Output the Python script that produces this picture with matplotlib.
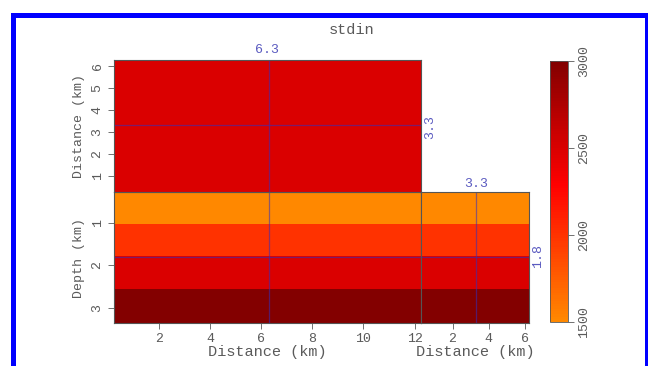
import numpy as np
import matplotlib
matplotlib.use('Agg')
import matplotlib.pyplot as plt
from matplotlib.colors import ListedColormap, Normalize
from matplotlib.patches import Rectangle

# layered velocity model (m/s), layer tops in km
layer_tops = [0.28, 1.04, 1.78, 2.56]
layer_vel = [1500, 2000, 2500, 3000]
depth_max = 3.36

# axis extents (km)
x_range = [0.25, 12.25]
y_range = [0.25, 6.25]

# slice positions
x_slice = 6.3
y_slice = 3.3
z_slice = 1.8

x_ticks = [2, 4, 6, 8, 10, 12]
y_ticks = [1, 2, 3, 4, 5, 6]
y_side_ticks = [2, 4, 6]
z_ticks = [1, 2, 3]
cbar_ticks = [1500, 2000, 2500, 3000]

W, H = 648, 366
fig = plt.figure(figsize=(W / 100, H / 100), dpi=100)
fig.patch.set_facecolor('white')

font = 'Liberation Mono'
txt = '#5a5a5a'
mark = '#5a5ac0'
tsize = 9.5
xl_size = 11
yl_size = 9.5

cmap = ListedColormap(plt.cm.hot(np.linspace(0.57, 0.18, 256)))
norm = Normalize(1500, 3000)


def box(x0, y0, x1, y1):
    # pixel box (top-left origin) -> figure axes
    return fig.add_axes([x0 / W, 1 - y1 / H, (x1 - x0) / W, (y1 - y0) / H])


def style(ax):
    for s in ax.spines.values():
        s.set_color('#555555')
        s.set_linewidth(0.8)
    ax.tick_params(direction='out', length=4, width=0.6, colors=txt,
                   labelsize=tsize)
    for lab in ax.get_xticklabels() + ax.get_yticklabels():
        lab.set_family(font)


z_edges = np.array(layer_tops + [depth_max])
vel = np.array(layer_vel)

# front panel: depth vs x at y = y_slice
ax_f = box(114, 192, 421, 323)
ax_f.pcolormesh(x_range, z_edges, vel[:, None], cmap=cmap, norm=norm)
ax_f.set_xlim(x_range)
ax_f.set_ylim(depth_max, layer_tops[0])
ax_f.axvline(x_slice, color='#3030c0', lw=0.9, alpha=0.55)
ax_f.axhline(z_slice, color='#3030c0', lw=0.9, alpha=0.55)
ax_f.set_xticks(x_ticks)
ax_f.set_yticks(z_ticks)
ax_f.set_yticklabels([str(t) for t in z_ticks], rotation=90, va='center')
ax_f.set_xlabel('Distance (km)', family=font, fontsize=xl_size, color=txt,
                labelpad=0)
ax_f.set_ylabel('Depth (km)', family=font, fontsize=yl_size, color=txt,
                labelpad=5)
style(ax_f)

# top panel: y vs x at depth z_slice
ax_t = box(114, 60, 421, 192)
v_top = vel[np.searchsorted(z_edges, z_slice) - 1]
ax_t.pcolormesh(x_range, y_range, np.full((1, 1), v_top), cmap=cmap, norm=norm)
ax_t.set_xlim(x_range)
ax_t.set_ylim(y_range)
ax_t.axvline(x_slice, color='#3030c0', lw=0.9, alpha=0.55)
ax_t.axhline(y_slice, color='#3030c0', lw=0.9, alpha=0.55)
ax_t.set_xticks([])
ax_t.set_yticks(y_ticks)
ax_t.set_yticklabels([str(t) for t in y_ticks], rotation=90, va='center')
ax_t.set_ylabel('Distance (km)', family=font, fontsize=yl_size, color=txt,
                labelpad=5)
style(ax_t)

# side panel: depth vs y at x = x_slice
ax_s = box(421, 192, 529, 323)
ax_s.pcolormesh(y_range, z_edges, vel[:, None], cmap=cmap, norm=norm)
ax_s.set_xlim(y_range)
ax_s.set_ylim(depth_max, layer_tops[0])
ax_s.axvline(y_slice, color='#3030c0', lw=0.9, alpha=0.55)
ax_s.axhline(z_slice, color='#3030c0', lw=0.9, alpha=0.55)
ax_s.set_xticks(y_side_ticks)
ax_s.set_yticks([])
ax_s.set_xlabel('Distance (km)', family=font, fontsize=xl_size, color=txt,
                labelpad=0)
style(ax_s)

# slice labels
fig.text(267 / W, 1 - 50 / H, f'{x_slice:g}', color=mark, family=font,
         fontsize=tsize, ha='center', va='center')
fig.text(430 / W, 1 - 127 / H, f'{y_slice:g}', color=mark, family=font,
         fontsize=tsize, ha='center', va='center', rotation=90)
fig.text(476 / W, 1 - 184 / H, f'{y_slice:g}', color=mark, family=font,
         fontsize=tsize, ha='center', va='center')
fig.text(538 / W, 1 - 256 / H, f'{z_slice:g}', color=mark, family=font,
         fontsize=tsize, ha='center', va='center', rotation=90)

# colorbar
cax = box(550, 61, 568, 322)
cb = fig.colorbar(plt.cm.ScalarMappable(norm=norm, cmap=cmap), cax=cax)
cb.set_ticks(cbar_ticks)
cb.outline.set_edgecolor('#555555')
cb.outline.set_linewidth(0.6)
cax.tick_params(direction='out', length=4, width=0.6, colors=txt,
                labelsize=tsize)
for lab in cax.get_yticklabels():
    lab.set_family(font)
    lab.set_rotation(90)
    lab.set_va('center')

fig.text(352 / W, 1 - 30 / H, 'stdin', family=font, fontsize=11,
         color=txt, ha='center', va='center')

# blue frame round the plot
fig.add_artist(Rectangle((12.5 / W, -0.1), 634 / W, 1.1 - 14.5 / H,
                         transform=fig.transFigure, fill=False,
                         edgecolor='#0000ff', linewidth=3.6))

fig.savefig('out.png', dpi=100)
